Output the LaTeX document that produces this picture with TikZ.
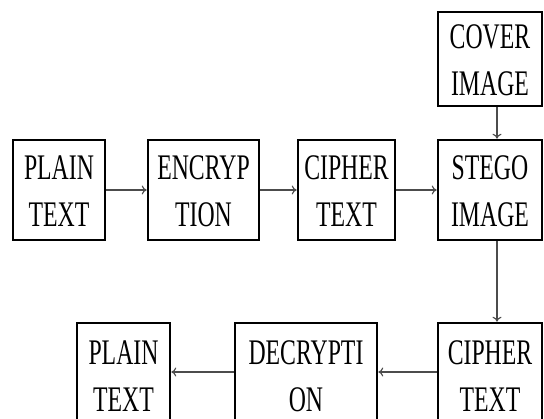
\documentclass[tikz,border=0pt]{standalone}
\usepackage{fontspec}
\setmainfont{Liberation Serif}
\usetikzlibrary{arrows.meta}
% two-line label, narrowed horizontally and set a little low in its box
\newcommand{\lbl}[2]{\raisebox{-4pt}[\height][\depth]{\scalebox{0.66}[1]{\begin{tabular}{@{}c@{}}#1\\#2\end{tabular}}}}
\begin{document}
\begin{tikzpicture}[x=1pt,y=-1pt,
  blk/.style={draw=black, line width=2.6pt, rectangle, inner sep=0pt,
    font=\fontsize{36}{47}\selectfont},
  flow/.style={draw=black!70, line width=1.3pt,
    -{To[length=5pt,width=9pt,line width=1.1pt]}}]
  \useasboundingbox (0,0) rectangle (544,419);
  \clip (0,0) rectangle (544,419);
  % upper row: encryption and embedding
  \node[blk, minimum width=92pt, minimum height=100pt] (plain1) at (59,190) {\lbl{PLAIN}{TEXT}};
  \node[blk, minimum width=111pt, minimum height=100pt] (enc) at (203.5,190) {\lbl{ENCRYP}{TION}};
  \node[blk, minimum width=97pt, minimum height=100pt] (ciph1) at (346.5,190) {\lbl{CIPHER}{TEXT}};
  \node[blk, minimum width=104pt, minimum height=100pt] (stego) at (490,190) {\lbl{STEGO}{IMAGE}};
  \node[blk, minimum width=104pt, minimum height=84pt] (cover) at (490,59) {\lbl{COVER}{IMAGE}};
  % lower row: extraction and decryption
  \node[blk, minimum width=104pt, minimum height=104pt] (ciph2) at (490,375) {\lbl{CIPHER}{TEXT}};
  \node[blk, minimum width=142pt, minimum height=104pt] (dec) at (306,375) {\lbl{DECRYPTI}{ON}};
  \node[blk, minimum width=93pt, minimum height=104pt] (plain2) at (123.5,375) {\lbl{PLAIN}{TEXT}};
  % connectors
  \draw[flow] (plain1) -- (enc);
  \draw[flow] (enc) -- (ciph1);
  \draw[flow] (ciph1) -- (stego);
  \draw[flow] ([xshift=7pt]cover.south) -- ([xshift=7pt]stego.north);
  \draw[flow] ([xshift=7pt]stego.south) -- ([xshift=7pt]ciph2.north);
  \draw[flow] (ciph2.west |- 0,372) -- (dec.east |- 0,372);
  \draw[flow] (dec.west |- 0,372) -- (plain2.east |- 0,372);
\end{tikzpicture}
\end{document}
